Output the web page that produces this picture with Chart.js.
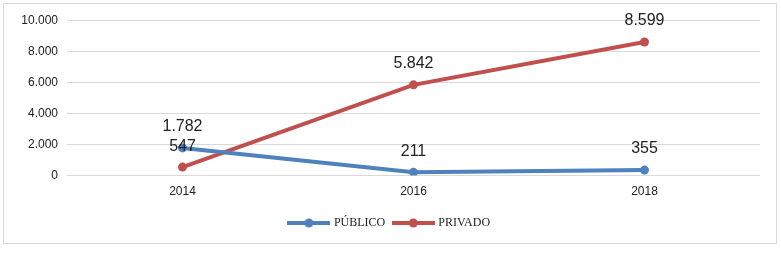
<!DOCTYPE html>
<html lang="es">
<head>
  <meta charset="UTF-8" />
  <title>Público vs Privado</title>
  <script src="https://cdn.jsdelivr.net/npm/chart.js"></script>
  <style>
    body { margin: 0; background: #fff; }
    .box {
      position: absolute; left: 3px; top: 3px;
      width: 772px; height: 239px;
      border: 1px solid #d9d9d9;
    }
  </style>
</head>
<body>
  <div class="box"><canvas id="chart"></canvas></div>
  <script>
    const years = ['2014', '2016', '2018'];
    const publico = [1782, 211, 355];
    const privado = [547, 5842, 8599];
    const yTicks = [0, 2000, 4000, 6000, 8000, 10000];

    const BLUE = '#4f81bd';
    const RED = '#c0504d';

    const fmt = v => v.toLocaleString('de-DE');

    // legend marker: thick line with a dot in the middle
    function legendMark(color) {
      const c = document.createElement('canvas');
      c.width = 43; c.height = 10;
      const g = c.getContext('2d');
      g.strokeStyle = color; g.lineWidth = 4;
      g.beginPath(); g.moveTo(0, 5); g.lineTo(43, 5); g.stroke();
      g.fillStyle = color;
      g.beginPath(); g.arc(21.5, 5, 4.5, 0, Math.PI * 2); g.fill();
      return c;
    }

    const valueLabels = {
      id: 'valueLabels',
      afterDatasetsDraw(chart) {
        const ctx = chart.ctx;
        ctx.save();
        ctx.font = '16px "Liberation Sans", Arial, sans-serif';
        ctx.fillStyle = '#222';
        ctx.textAlign = 'center';
        ctx.textBaseline = 'middle';
        chart.data.datasets.forEach((ds, i) => {
          chart.getDatasetMeta(i).data.forEach((pt, j) => {
            ctx.fillText(fmt(ds.data[j]), pt.x, pt.y - 21);
          });
        });
        ctx.restore();
      }
    };

    new Chart(document.getElementById('chart'), {
      type: 'line',
      data: {
        labels: years,
        datasets: [
          { label: 'PÚBLICO', data: publico, borderColor: BLUE, backgroundColor: BLUE,
            borderWidth: 4, pointRadius: 4.5, pointHoverRadius: 4.5, pointBorderWidth: 0 },
          { label: 'PRIVADO', data: privado, borderColor: RED, backgroundColor: RED,
            borderWidth: 4, pointRadius: 4.5, pointHoverRadius: 4.5, pointBorderWidth: 0 }
        ]
      },
      options: {
        responsive: true,
        maintainAspectRatio: false,
        animation: false,
        layout: { padding: { top: 15, right: 0, left: 0, bottom: 4 } },
        scales: {
          x: {
            offset: true,
            grid: { display: false, drawTicks: false },
            border: { display: false },
            ticks: { color: '#222', padding: 9, font: { family: '"Liberation Sans", Arial', size: 12 } }
          },
          y: {
            min: 0, max: 10000,
            afterFit: s => { s.width = 63; },
            afterBuildTicks: s => { s.ticks = yTicks.map(v => ({ value: v })); },
            grid: { color: '#d9d9d9', drawTicks: false },
            border: { display: false },
            ticks: { color: '#222', padding: 9, callback: v => fmt(v),
                     font: { family: '"Liberation Sans", Arial', size: 12 } }
          },
          // empty right-hand axis only to keep a margin right of the plot
          yRight: {
            position: 'right',
            afterFit: s => { s.width = 16; },
            grid: { display: false, drawTicks: false },
            border: { display: false },
            ticks: { display: false }
          }
        },
        plugins: {
          legend: {
            position: 'bottom',
            labels: {
              usePointStyle: true,
              pointStyleWidth: 38,
              generateLabels: chart => chart.data.datasets.map((ds, i) => ({
                text: ds.label, pointStyle: legendMark(ds.borderColor),
                fontColor: '#222', datasetIndex: i, hidden: false, lineWidth: 0
              })),
              padding: 9,
              color: '#222',
              font: { family: '"Liberation Serif", "Times New Roman", serif', size: 12 }
            }
          },
          tooltip: { enabled: false }
        }
      },
      plugins: [valueLabels]
    });
  </script>
</body>
</html>
